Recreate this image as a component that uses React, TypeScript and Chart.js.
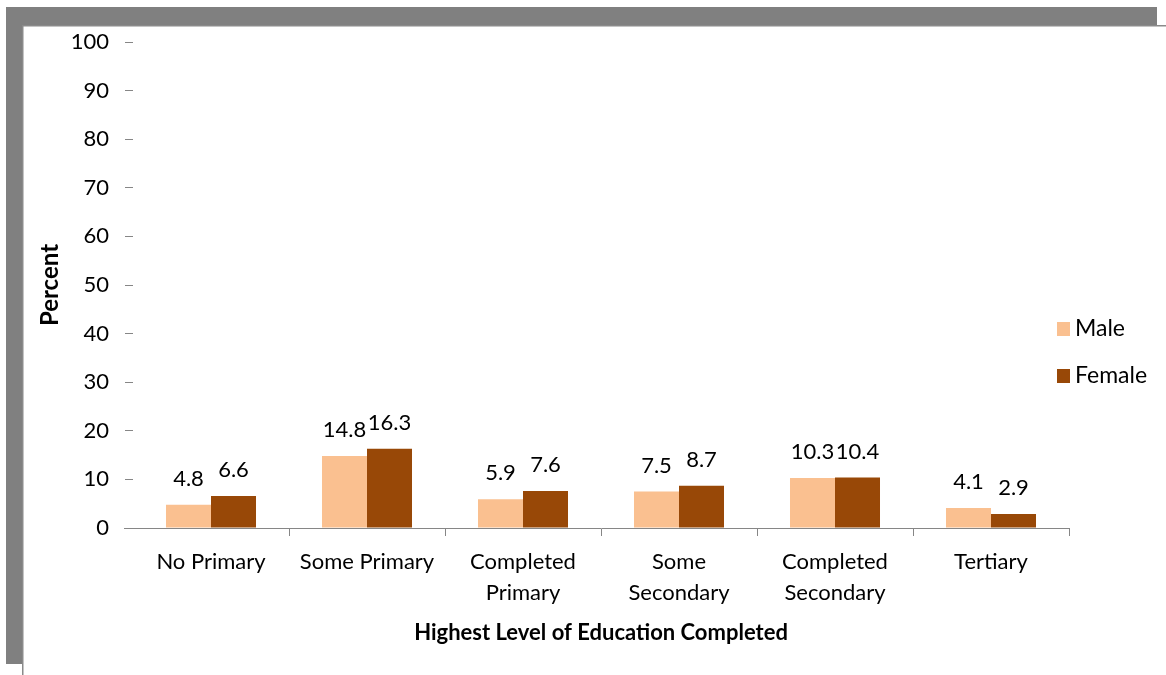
import React, { useEffect, useRef } from "react";
import { Chart, registerables } from "chart.js";

Chart.register(...registerables);

const categories: string[][] = [
  ["No Primary"],
  ["Some Primary"],
  ["Completed", "Primary"],
  ["Some", "Secondary"],
  ["Completed", "Secondary"],
  ["Tertiary"],
];
const maleValues = [4.8, 14.8, 5.9, 7.5, 10.3, 4.1];
const femaleValues = [6.6, 16.3, 7.6, 8.7, 10.4, 2.9];
const seriesNames = ["Male", "Female"];
const yTitle = "Percent";
const xTitle = "Highest Level of Education Completed";

const MALE_COLOR = "#FAC090";
const FEMALE_COLOR = "#984807";
const AXIS_COLOR = "#868686";
const FONT = "Lato, 'Open Sans', sans-serif";

const framePlugin = {
  id: "frame",
  beforeDraw(chart: any) {
    const ctx = chart.ctx;
    ctx.save();
    ctx.fillStyle = "#ffffff";
    ctx.fillRect(0, 0, chart.width, chart.height);
    ctx.fillStyle = "#808080";
    ctx.fillRect(6, 7, 1151, 19);
    ctx.fillRect(6, 7, 16, 657);
    ctx.fillStyle = "#8a8a8a";
    ctx.fillRect(22, 25, chart.width - 22, 1.5);
    ctx.fillRect(22, 25, 1.5, chart.height - 25);
    ctx.restore();
  },
};

const labelsPlugin = {
  id: "valueLabels",
  afterDatasetsDraw(chart: any) {
    const ctx = chart.ctx;
    ctx.save();
    const area = chart.chartArea;
    ctx.strokeStyle = AXIS_COLOR;
    ctx.lineWidth = 1;
    ctx.beginPath();
    ctx.moveTo(124, Math.round(area.bottom) + 0.5);
    ctx.lineTo(area.left, Math.round(area.bottom) + 0.5);
    ctx.stroke();

    ctx.font = `22px ${FONT}`;
    ctx.fillStyle = "#000";
    ctx.textAlign = "center";
    ctx.textBaseline = "middle";
    chart.data.datasets.forEach((ds: any, di: number) => {
      const meta = chart.getDatasetMeta(di);
      meta.data.forEach((el: any, i: number) => {
        const v = ds.data[i] as number;
        ctx.fillText(v.toFixed(1), el.x, el.y - 26);
      });
    });

    const lx = 1057;
    const ly = [329, 376];
    ctx.font = `23px ${FONT}`;
    chart.data.datasets.forEach((ds: any, di: number) => {
      ctx.fillStyle = ds.backgroundColor;
      ctx.fillRect(lx, ly[di] - 7, 13, 14);
      ctx.fillStyle = "#000";
      ctx.textAlign = "left";
      ctx.fillText(ds.label, lx + 18, ly[di]);
    });
    ctx.restore();
  },
};

export default function App() {
  const ref = useRef<HTMLCanvasElement | null>(null);

  useEffect(() => {
    if (!ref.current) return;
    const chart = new Chart(ref.current, {
      type: "bar",
      data: {
        labels: categories,
        datasets: [
          {
            label: seriesNames[0],
            data: maleValues,
            backgroundColor: MALE_COLOR,
            categoryPercentage: 0.577,
            barPercentage: 1,
          },
          {
            label: seriesNames[1],
            data: femaleValues,
            backgroundColor: FEMALE_COLOR,
            categoryPercentage: 0.577,
            barPercentage: 1,
          },
        ],
      },
      options: {
        responsive: false,
        devicePixelRatio: 1,
        animation: false,
        layout: { padding: { left: 0, top: 42, right: 97, bottom: 0 } },
        plugins: {
          legend: { display: false },
          tooltip: { enabled: false },
        },
        scales: {
          x: {
            offset: true,
            afterFit: (scale: any) => {
              scale.height = 147;
            },
            grid: {
              display: true,
              drawOnChartArea: false,
              drawTicks: true,
              tickLength: 8,
              offset: true,
              color: (c: any) => (c.index === 0 ? "rgba(0,0,0,0)" : AXIS_COLOR),
            },
            border: { display: true, color: AXIS_COLOR, width: 1 },
            ticks: {
              color: "#000",
              font: { family: FONT, size: 22, lineHeight: 1.41 },
              padding: 10,
              maxRotation: 0,
              autoSkip: false,
            },
            title: {
              display: true,
              text: xTitle,
              color: "#000",
              font: { family: FONT, size: 22, weight: "bold", lineHeight: 1.2 },
              padding: { top: 0, bottom: 29 },
            },
          },
          y: {
            min: 0,
            max: 100,
            afterFit: (scale: any) => {
              scale.width = 133;
            },
            grid: {
              display: true,
              drawOnChartArea: false,
              drawTicks: true,
              tickLength: 8,
              color: AXIS_COLOR,
            },
            border: { display: false },
            ticks: {
              stepSize: 10,
              color: "#000",
              font: { family: FONT, size: 22 },
              padding: 16,
            },
            title: {
              display: true,
              text: yTitle,
              color: "#000",
              font: { family: FONT, size: 24, weight: "bold", lineHeight: 1.2 },
              padding: { top: 36, bottom: 0 },
            },
          },
        },
      },
      plugins: [framePlugin, labelsPlugin],
    });
    return () => chart.destroy();
  }, []);

  return (
    <canvas
      ref={ref}
      width={1166}
      height={675}
      style={{ position: "fixed", left: 0, top: 0, width: 1166, height: 675 }}
    />
  );
}
